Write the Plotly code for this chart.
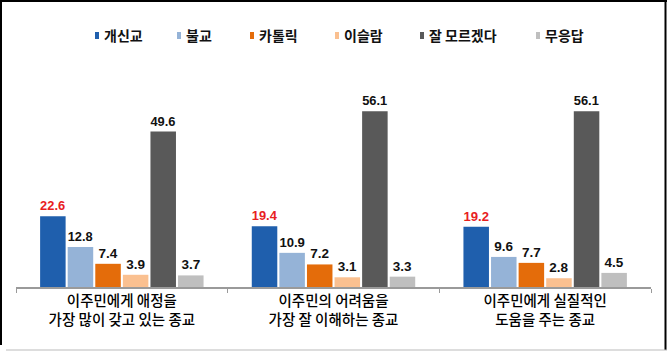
import plotly.graph_objects as go

categories = [
    "이주민에게 애정을<br>가장 많이 갖고 있는 종교",
    "이주민의 어려움을<br>가장 잘 이해하는 종교",
    "이주민에게 실질적인<br>도움을 주는 종교",
]
series_names = ["개신교", "불교", "카톨릭", "이슬람", "잘 모르겠다", "무응답"]
v_protestant = [22.6, 19.4, 19.2]
v_buddhism = [12.8, 10.9, 9.6]
v_catholic = [7.4, 7.2, 7.7]
v_islam = [3.9, 3.1, 2.8]
v_dontknow = [49.6, 56.1, 56.1]
v_noanswer = [3.7, 3.3, 4.5]
series_values = [v_protestant, v_buddhism, v_catholic, v_islam, v_dontknow, v_noanswer]

colors = ["#1F5FAD", "#95B3D7", "#E46C0A", "#FAC090", "#595959", "#BFBFBF"]
label_colors = ["#E8201E", "#111111", "#111111", "#111111", "#111111", "#111111"]

W, H = 667, 352
L, R, T, B = 16, 16, 99, 65
PW, PH = W - L - R, H - T - B


def px(x):
    return (x - L) / PW


def py(y):
    return (H - B - y) / PH


fig = go.Figure()
for name, vals, col, lcol in zip(series_names, series_values, colors, label_colors):
    fig.add_trace(go.Bar(
        x=categories, y=vals, name=name,
        marker=dict(color=col, line=dict(width=0)),
        texttemplate="%{y:.1f}", textposition="outside",
        textfont=dict(family="Liberation Sans, Arial", size=13.5, color=lcol, weight="bold"),
        cliponaxis=False, showlegend=False,
    ))

# manual legend (matches compact source legend)
legend_x = [95, 177, 250, 335, 420, 536]
shapes = []
annotations = []
for name, col, lx in zip(series_names, colors, legend_x):
    shapes.append(dict(type="rect", xref="paper", yref="paper",
                       x0=px(lx), x1=px(lx + 4), y0=py(39), y1=py(32),
                       fillcolor=col, line=dict(width=0)))
    annotations.append(dict(xref="paper", yref="paper", x=px(lx + 7), y=py(35.5),
                            xanchor="left", yanchor="middle", showarrow=False,
                            text=name,
                            font=dict(family="Noto Sans CJK KR", size=14, color="#111111", weight="bold")))

# outer frame
shapes += [
    dict(type="line", xref="paper", yref="paper", x0=px(0), x1=px(667), y0=py(1), y1=py(1),
         line=dict(color="#000000", width=2)),
    dict(type="line", xref="paper", yref="paper", x0=px(1), x1=px(1), y0=py(0), y1=py(345),
         line=dict(color="#000000", width=2)),
    dict(type="line", xref="paper", yref="paper", x0=px(665.5), x1=px(665.5), y0=py(0), y1=py(350),
         line=dict(color="#000000", width=2)),
    dict(type="line", xref="paper", yref="paper", x0=px(6), x1=px(667), y0=py(350), y1=py(350),
         line=dict(color="#BBBBBB", width=1)),
]

fig.update_layout(
    width=W, height=H,
    margin=dict(l=L, r=R, t=T, b=B),
    paper_bgcolor="white", plot_bgcolor="white",
    barmode="group", bargap=0.218, bargroupgap=0.075,
    shapes=shapes, annotations=annotations,
    xaxis=dict(
        showline=True, linecolor="#9A9A9A", linewidth=1.5,
        ticks="outside", tickson="boundaries", ticklen=4, tickcolor="#9A9A9A",
        tickfont=dict(family="Noto Sans CJK KR", size=14.5, color="#000000", weight=500),
        showgrid=False,
    ),
    yaxis=dict(range=[0, 60], visible=False, showgrid=False, zeroline=False),
)

fig.write_html("out.html")
